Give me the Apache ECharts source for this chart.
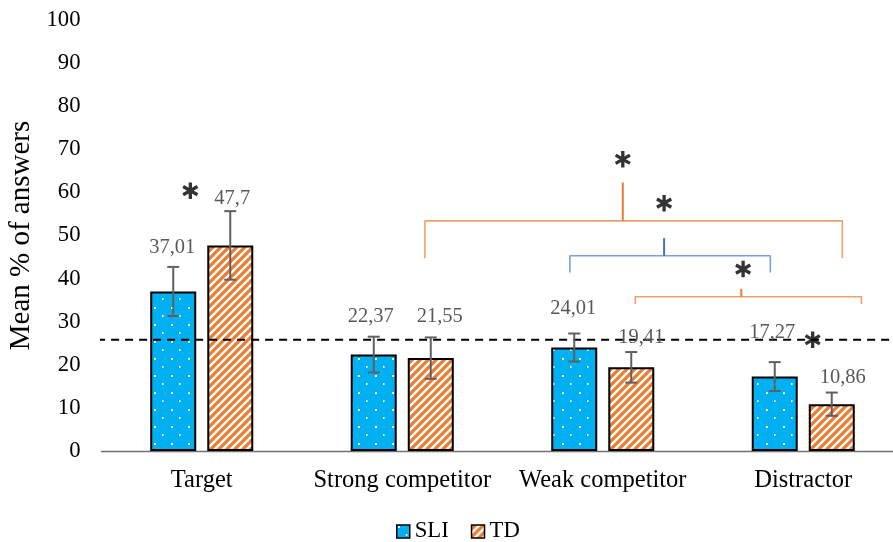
<!DOCTYPE html>
<html>
<head>
<meta charset="utf-8">
<script src="https://cdn.jsdelivr.net/npm/echarts@6/dist/echarts.min.js"></script>
<style>
  html, body { margin: 0; padding: 0; background: #fff; }
  #chart { width: 893px; height: 542px; }
</style>
</head>
<body>
<div id="chart"></div>
<script>
// Answer categories and group means (%)
const categories = ['Target', 'Strong competitor', 'Weak competitor', 'Distractor'];
const groups = ['SLI', 'TD'];
const sliMeans = [37.01, 22.37, 24.01, 17.27];
const tdMeans = [47.7, 21.55, 19.41, 10.86];
// Error bar half-lengths
const sliErrors = [5.7, 4.15, 3.25, 3.35];
const tdErrors = [7.95, 4.8, 3.55, 2.7];
// Chance level reference line
const chanceLevel = 25.8;
const yTicks = { min: 0, max: 100, step: 10 };

// Value-label anchors (axis units) and horizontal nudges (px)
const sliLabelAt = [47.1, 31.2, 33.0, 27.5];
const tdLabelAt = [58.6, 31.2, 26.4, 17.0];
const sliLabelDx = [-1, -3, -1, -2.5];
const tdLabelDx = [2, 9, 10, 11];

// Significance brackets on a 0..4 category-span scale:
// [xFrom, xTo, yBar, yLegEnd, xStem, yStemTop, colour, stemColour]
const brackets = [
  [1.613, 3.695, 53.4, 44.7, 2.600, 62.3, '#f2a06a', '#ed7d31'],
  [2.336, 3.336, 45.3, 41.4, 2.806, 49.4, '#7f9fd8', '#4472c4'],
  [2.662, 3.790, 35.8, 34.1, 3.191, 37.6, '#f2a06a', '#ed7d31']
];
// Significance stars [x, y]
const stars = [[0.443, 60.4], [2.600, 67.7], [2.806, 57.5], [3.200, 42.2], [3.547, 25.8]];

const SERIF = '"Liberation Serif", "Times New Roman", serif';
const fmt = v => String(v).replace('.', ',');

// Fill patterns: white dots on blue, white upward diagonals on orange
function dotPattern() {
  const c = document.createElement('canvas');
  c.width = 17; c.height = 17;
  const g = c.getContext('2d');
  g.fillStyle = '#00b0f0'; g.fillRect(0, 0, 17, 17);
  g.fillStyle = '#ffffff';
  g.fillRect(1, 1, 2, 2);
  g.fillRect(9, 9, 1.5, 2);
  return c;
}
function stripePattern() {
  const c = document.createElement('canvas');
  c.width = 8; c.height = 8;
  const g = c.getContext('2d');
  g.fillStyle = '#ed7d31'; g.fillRect(0, 0, 8, 8);
  g.strokeStyle = '#ffffff'; g.lineWidth = 2.3;
  g.beginPath();
  g.moveTo(-2, 10); g.lineTo(10, -2);
  g.moveTo(-2, 2); g.lineTo(2, -2);
  g.moveTo(6, 10); g.lineTo(10, 6);
  g.stroke();
  return c;
}

const asterisk = 'path://M6.4,0L9.6,0L9.6,16L6.4,16Z' +
  'M14.128,2.614L15.728,5.386L1.872,13.386L0.272,10.614Z' +
  'M0.272,5.386L1.872,2.614L15.728,10.614L14.128,13.386Z';

function errorBarSeries(name, means, errors, labelAt, labelDx, side) {
  return {
    type: 'custom',
    name: name + ' error',
    xAxisIndex: 0,
    yAxisIndex: 0,
    z: 6,
    silent: true,
    data: means.map((m, i) => [i, m, errors[i], labelAt[i], labelDx[i]]),
    renderItem(params, api) {
      const i = api.value(0), m = api.value(1), e = api.value(2);
      const x = api.coord([i, m])[0] + side * 28.5;
      const yTop = api.coord([i, m + e])[1];
      const yBot = api.coord([i, m - e])[1];
      const yLab = api.coord([i, api.value(3)])[1];
      const st = { stroke: '#606060', lineWidth: 2 };
      return {
        type: 'group',
        children: [
          { type: 'line', shape: { x1: x, y1: yTop, x2: x, y2: yBot }, style: st },
          { type: 'line', shape: { x1: x - 6, y1: yTop, x2: x + 6, y2: yTop }, style: st },
          { type: 'line', shape: { x1: x - 6, y1: yBot, x2: x + 6, y2: yBot }, style: st },
          {
            type: 'text', x: x + api.value(4), y: yLab,
            style: { text: fmt(m), font: '20.5px ' + SERIF, fill: '#595959', align: 'center', verticalAlign: 'middle' }
          }
        ]
      };
    }
  };
}

const bracketSeries = [];
brackets.forEach(b => {
  const [x1, x2, yb, yl, xs, yt, col, stemCol] = b;
  bracketSeries.push({
    type: 'line', xAxisIndex: 1, yAxisIndex: 0, silent: true, symbol: 'none', z: 4,
    lineStyle: { color: col, width: 1.6 },
    data: [[x1, yl], [x1, yb], [x2, yb], [x2, yl]]
  });
  bracketSeries.push({
    type: 'line', xAxisIndex: 1, yAxisIndex: 0, silent: true, symbol: 'none', z: 4,
    lineStyle: { color: stemCol, width: 2 },
    data: [[xs, yb], [xs, yt]]
  });
});

const chart = echarts.init(document.getElementById('chart'), null, { renderer: 'canvas' });
chart.setOption({
  animation: false,
  backgroundColor: '#ffffff',
  textStyle: { fontFamily: SERIF },
  grid: { left: 101.5, top: 20, width: 802, height: 431, containLabel: false, outerBoundsMode: 'none' },
  legend: {
    data: groups,
    left: 391, top: 515,
    itemWidth: 13, itemHeight: 13, itemGap: 22,
    icon: 'rect',
    itemStyle: { borderColor: '#000', borderWidth: 1.5 },
    textStyle: { fontSize: 22.7, color: '#000', fontFamily: SERIF }
  },
  xAxis: [
    {
      type: 'category', data: categories, boundaryGap: true,
      axisLine: { lineStyle: { color: '#707070', width: 1.3 } },
      axisTick: { show: false },
      axisLabel: { fontSize: 24.5, color: '#000', margin: 17, fontFamily: SERIF, interval: 0 }
    },
    { type: 'value', min: 0, max: 4, show: false }
  ],
  yAxis: {
    type: 'value', min: yTicks.min, max: yTicks.max, interval: yTicks.step,
    name: 'Mean % of answers', nameLocation: 'middle', nameGap: 61, nameRotate: 90,
    nameTextStyle: { fontSize: 29, color: '#000', fontFamily: SERIF },
    axisLine: { show: false }, axisTick: { show: false }, splitLine: { show: false },
    axisLabel: { fontSize: 22.7, color: '#000', margin: 21, fontFamily: SERIF }
  },
  series: [
    {
      name: 'SLI', type: 'bar', data: sliMeans, barWidth: 46, barGap: '24%', z: 2,
      itemStyle: { color: { image: dotPattern(), repeat: 'repeat' }, borderColor: '#000', borderWidth: 2 }
    },
    {
      name: 'TD', type: 'bar', data: tdMeans, barWidth: 46, barGap: '24%', z: 2,
      itemStyle: { color: { image: stripePattern(), repeat: 'repeat' }, borderColor: '#000', borderWidth: 2 }
    },
    {
      name: 'chance', type: 'line', xAxisIndex: 1, yAxisIndex: 0, silent: true, symbol: 'none',
      clip: false, z: 5,
      lineStyle: { color: '#000', width: 2, type: [8, 6] },
      data: [[-0.022, chanceLevel], [4, chanceLevel]]
    },
    errorBarSeries('SLI', sliMeans, sliErrors, sliLabelAt, sliLabelDx, -1),
    errorBarSeries('TD', tdMeans, tdErrors, tdLabelAt, tdLabelDx, 1),
    ...bracketSeries,
    {
      name: 'stars', type: 'scatter', xAxisIndex: 1, yAxisIndex: 0, silent: true, z: 7,
      symbol: asterisk, symbolSize: [16, 16.5],
      itemStyle: { color: '#000' },
      data: stars
    }
  ]
});
</script>
</body>
</html>
